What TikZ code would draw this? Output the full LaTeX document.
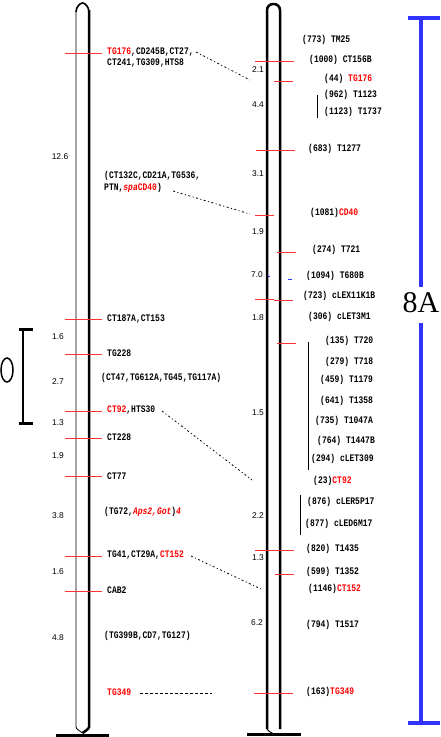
\documentclass[tikz,border=0pt]{standalone}
\usepackage{fontspec}
\usetikzlibrary{shapes.geometric}
\setmainfont{Liberation Serif}
\newfontfamily\mkf[FakeStretch=0.8]{Liberation Mono}
\newfontfamily\numf{Liberation Sans}
\definecolor{tickred}{RGB}{255,50,50}
\definecolor{mred}{RGB}{255,0,0}
\definecolor{cblue}{RGB}{51,51,255}
\newcommand\redtxt[1]{\textcolor{mred}{#1}}
\newcommand\redit[1]{\textcolor{mred}{\itshape #1}}
\begin{document}
\begin{tikzpicture}[x=1pt,y=-1pt,
  mk/.style={anchor=west,inner sep=0pt,font={\fontsize{10}{10}\mkf\bfseries\selectfont}},
  dist/.style={inner sep=0pt,font={\fontsize{8.4}{8.4}\numf\selectfont}},
  tk/.style={draw=tickred,line width=1pt},
  conn/.style={line width=0.8pt,dash pattern=on 2pt off 2.5pt on 1pt off 2.5pt},
  chr/.style={line width=2.5pt},
  bar/.style={line width=3pt},
  blueline/.style={draw=cblue,line width=3.5pt}]
\useasboundingbox (0,0) rectangle (440,737);
\fill[white] (0,0) rectangle (440,737);

% ---------- left chromosome ----------
\draw[line width=0.8pt] (76,727) -- (76,12) .. controls (76,7) and (80,3) .. (82.5,3) .. controls (85,3) and (89,7) .. (89,12);
\draw[line width=1.6pt] (76,12) .. controls (76,7) and (80,3) .. (82.5,3) .. controls (85,3) and (89,7) .. (89,12);
\draw[chr] (89,10) -- (89,727) .. controls (89,729) and (85,731) .. (82.5,733);
\draw[line width=0.8pt] (76,727) .. controls (76,729) and (80,731) .. (82.5,733);
\draw[bar] (56,735) -- (109,735);

% left ticks
\foreach \y in {53,319,354,411,438,476,556,591} \draw[tk] (65,\y) -- (102,\y);

% left labels
\node[mk] (l1a) at (107,52) {\redtxt{TG176},CD245B,CT27,};
\node[mk] (l1b) at (107,63) {CT241,TG309,HTS8};
\node[mk] (l2a) at (104,176) {(CT132C,CD21A,TG536,};
\node[mk] (l2b) at (104,188) {PTN,\redit{spa}\redtxt{CD40})};
\node[mk] (l3) at (107,319) {CT187A,CT153};
\node[mk] (l4) at (107,353) {TG228};
\node[mk] (l5) at (101,378) {(CT47,TG612A,TG45,TG117A)};
\node[mk] (l6) at (107,410) {\redtxt{CT92},HTS30};
\node[mk] (l7) at (107,437) {CT228};
\node[mk] (l8) at (107,476) {CT77};
\node[mk] (l9) at (104,512) {(TG72,\redit{Aps2,Got})\redit{4}};
\node[mk] (l10) at (107,555) {TG41,CT29A,\redtxt{CT152}};
\node[mk] (l11) at (107,590) {CAB2};
\node[mk] (l12) at (104,636) {(TG399B,CD7,TG127)};
\node[mk] (l13) at (107,692) {\redtxt{TG349}};

% left distances
\node[dist] (d1) at (60,157) {12.6};
\node[dist] (d2) at (58,337) {1.6};
\node[dist] (d3) at (58,382) {2.7};
\node[dist] (d4) at (58,423) {1.3};
\node[dist] (d5) at (58,456) {1.9};
\node[dist] (d6) at (58,516) {3.8};
\node[dist] (d7) at (58,572) {1.6};
\node[dist] (d8) at (58,638) {4.8};

% bracket and ellipse
\draw[line width=3pt] (19,329) -- (33,329);
\draw[line width=3pt] (19,423) -- (33,423);
\draw[line width=2.6pt] (23,329) -- (23,423);
\node[draw,line width=1.5pt,ellipse,minimum width=12pt,minimum height=24pt,inner sep=0pt] (cen) at (7,370) {};

% ---------- right chromosome ----------
\draw[chr,rounded corners=6pt] (267,729) -- (267,4) -- (280,4) -- (280,729);
\draw[line width=1pt] (267,728) .. controls (267,731) and (271,732) .. (273.5,734);
\draw[bar] (247,734) -- (301,734);

% right ticks
\draw[tk] (255,61) -- (294,61);
\draw[tk] (274,81) -- (293,81);
\draw[tk] (256,150) -- (295,150);
\draw[tk] (255,215) -- (274,215);
\draw[tk] (277,252) -- (296,252);
\draw[tk] (255,299) -- (274,299);
\draw[tk] (274,300) -- (293,300);
\draw[tk] (277,343) -- (296,343);
\draw[tk] (255,550) -- (294,550);
\draw[tk] (275,574) -- (294,574);
\draw[tk] (254,693) -- (293,693);
\draw[draw=cblue,line width=1pt] (268,276.5) -- (270,276.5);
\draw[draw=cblue,line width=1pt] (288,279) -- (292,279);

% right groupings
\draw[line width=0.8pt] (317,95) -- (317,118);
\draw[line width=0.8pt] (308,342) -- (308,470);
\draw[line width=0.8pt] (300,495) -- (300,535);

% right labels
\node[mk] (r1) at (302,40) {(773) TM25};
\node[mk] (r2) at (309,60) {(1000) CT156B};
\node[mk] (r3) at (324,79) {(44) \redtxt{TG176}};
\node[mk] (r4) at (324,95) {(962) T1123};
\node[mk] (r5) at (324,112) {(1123) T1737};
\node[mk] (r6) at (308,149) {(683) T1277};
\node[mk] (r7) at (310,213) {(1081)\redtxt{CD40}};
\node[mk] (r8) at (312,250) {(274) T721};
\node[mk] (r9) at (306,276) {(1094) T680B};
\node[mk] (r10) at (303,296) {(723) cLEX11K1B};
\node[mk] (r11) at (308,317) {(306) cLET3M1};
\node[mk] (r12) at (325,341) {(135) T720};
\node[mk] (r13) at (325,362) {(279) T718};
\node[mk] (r14) at (320,380) {(459) T1179};
\node[mk] (r15) at (320,401) {(641) T1358};
\node[mk] (r16) at (315,421) {(735) T1047A};
\node[mk] (r17) at (317,441) {(764) T1447B};
\node[mk] (r18) at (311,459) {(294) cLET309};
\node[mk] (r19) at (313,481) {(23)\redtxt{CT92}};
\node[mk] (r20) at (307,502) {(876) cLER5P17};
\node[mk] (r21) at (305,524) {(877) cLED6M17};
\node[mk] (r22) at (306,549) {(820) T1435};
\node[mk] (r23) at (306,572) {(599) T1352};
\node[mk] (r24) at (308,589) {(1146)\redtxt{CT152}};
\node[mk] (r25) at (306,625) {(794) T1517};
\node[mk] (r26) at (306,692) {(163)\redtxt{TG349}};

% right distances
\node[dist] (e1) at (258,70) {2.1};
\node[dist] (e2) at (258,105) {4.4};
\node[dist] (e3) at (258,174) {3.1};
\node[dist] (e4) at (258,232) {1.9};
\node[dist] (e5) at (257,275) {7.0};
\node[dist] (e6) at (258,318) {1.8};
\node[dist] (e7) at (258,413) {1.5};
\node[dist] (e8) at (258,516) {2.2};
\node[dist] (e9) at (258,558) {1.3};
\node[dist] (e10) at (257,623) {6.2};

% connectors
\coordinate (c1s) at (196,52);  \coordinate (c1e) at (250,80);
\coordinate (c2s) at (173,191); \coordinate (c2e) at (250,214);
\coordinate (c3s) at (162,411); \coordinate (c3e) at (252,480);
\coordinate (c4s) at (191,556); \coordinate (c4e) at (261,589);
\coordinate (c5s) at (140,693); \coordinate (c5e) at (212,693);
\draw[conn] (c1s) -- (c1e);
\draw[conn] (c2s) -- (c2e);
\draw[conn] (c3s) -- (c3e);
\draw[conn] (c4s) -- (c4e);
\draw[line width=0.8pt,dash pattern=on 3pt off 2pt] (c5s) -- (c5e);

% ---------- blue scale ----------
\draw[blueline] (421,18) -- (421,287);
\draw[blueline] (421,323) -- (421,723);
\draw[blueline] (408,18) -- (440,18);
\draw[blueline] (408,723) -- (440,723);
\node[inner sep=0pt,font={\fontsize{30}{30}\selectfont}] (lab) at (421,303) {8A};
\end{tikzpicture}
\end{document}
